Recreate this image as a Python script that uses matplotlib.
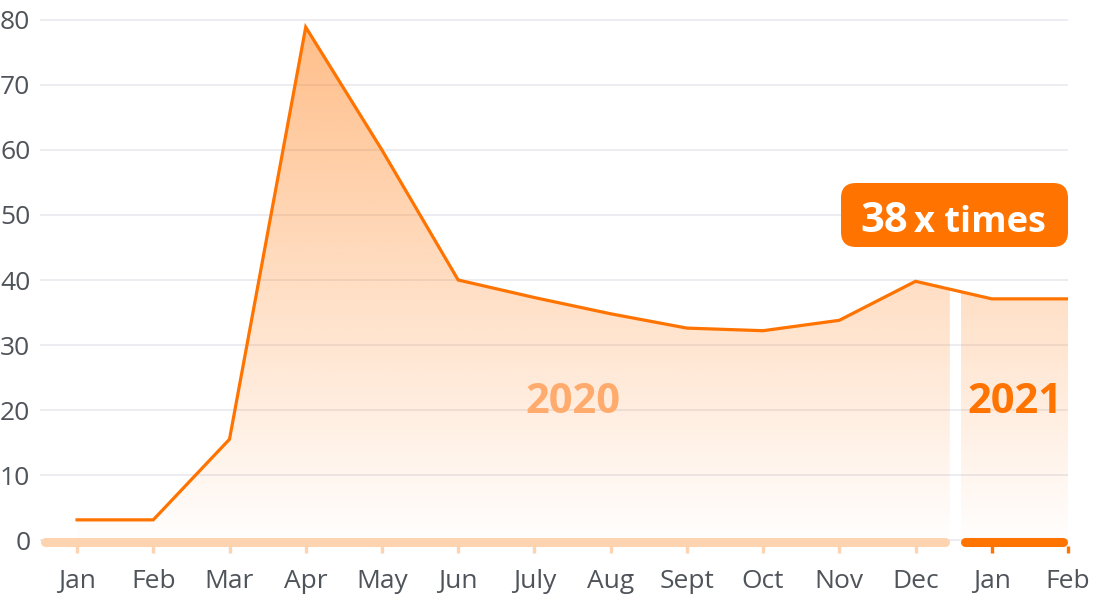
import numpy as np
import matplotlib
matplotlib.use("Agg")
import matplotlib.pyplot as plt
from matplotlib.patches import Polygon, FancyBboxPatch

# data
months = ["Jan", "Feb", "Mar", "Apr", "May", "Jun", "July", "Aug", "Sept",
          "Oct", "Nov", "Dec", "Jan", "Feb"]
values = [3.1, 3.1, 15.5, 78.9, 60.0, 40.0, 37.3, 34.8, 32.6, 32.2, 33.8,
          39.8, 37.1, 37.1]
n_2020 = 12
yticks = [0, 10, 20, 30, 40, 50, 60, 70, 80]

ORANGE = "#ff7300"
LIGHT = "#fdd3b0"
TEXT = "#4f545a"

plt.rcParams["font.family"] = ["Open Sans", "DejaVu Sans"]

fig = plt.figure(figsize=(11, 6.01), dpi=100)
ax = fig.add_axes([40 / 1100, 55 / 601, 1028 / 1100, 532 / 601])

x = np.arange(len(values))
xl, xr = -0.486, len(values) - 1

# gradient fill, split in two years with a small gap
split = 11.52
gap = 0.07
grad = np.zeros((200, 2, 4))
rgb = matplotlib.colors.to_rgb(ORANGE)
grad[..., 0], grad[..., 1], grad[..., 2] = rgb
grad[..., 3] = np.linspace(0.01, 0.47, 200)[:, None]

def fill_part(a, b):
    xs = [a] + [xx for xx in x if a < xx < b] + [b]
    ys = np.interp(xs, x, values)
    pts = [(a, 0)] + list(zip(xs, ys)) + [(b, 0)]
    poly = Polygon(pts, closed=True, facecolor="none", edgecolor="none")
    ax.add_patch(poly)
    im = ax.imshow(grad, extent=[a, b, 0, 80], origin="lower", aspect="auto",
                   interpolation="bilinear", zorder=1)
    im.set_clip_path(poly)

fill_part(0, split - gap)
fill_part(split + gap, xr)
ax.set_xlim(xl, xr)
ax.set_ylim(-0.923, 80.923)

ax.plot(x, values, color=ORANGE, lw=2.3, zorder=3, solid_joinstyle="miter")

# year bars along the bottom
ax.plot([xl + 0.06, split - gap - 0.06], [-0.3, -0.3], color=LIGHT, lw=6.5,
        solid_capstyle="round", zorder=4, clip_on=False)
ax.plot([split + gap + 0.06, xr - 0.06], [-0.3, -0.3], color=ORANGE, lw=6.5,
        solid_capstyle="round", zorder=4, clip_on=False)

ax.set_yticks(yticks)
ax.set_yticklabels([str(v) for v in yticks])
ax.grid(axis="y", color="#e9e9ef", lw=1.2, zorder=0)
ax.set_axisbelow(True)
ax.set_xticks(x)
ax.set_xticklabels(months)
ax.tick_params(axis="y", length=0, pad=7, labelsize=19, labelcolor=TEXT)
ax.tick_params(axis="x", length=5, width=2.4, pad=11.5, labelsize=19,
               labelcolor=TEXT, color=LIGHT)
for i, t in enumerate(ax.xaxis.get_major_ticks()):
    if i >= n_2020:
        t.tick1line.set_markeredgecolor(ORANGE)
for s in ax.spines.values():
    s.set_visible(False)

ax.text(6.5, 19.5, "2020", color="#ffab6e", fontsize=30, fontweight="bold",
        ha="center", va="baseline", zorder=5)
ax.text(12.3, 19.5, "2021", color=ORANGE, fontsize=30, fontweight="bold",
        ha="center", va="baseline", zorder=5)

# "38 x times" badge
box = FancyBboxPatch((8.41, 3.54), 2.27, 0.64,
                     boxstyle="round,pad=0,rounding_size=0.15",
                     transform=fig.dpi_scale_trans, facecolor=ORANGE,
                     edgecolor="none")
fig.add_artist(box)
fig.text(9.08, 3.69, "38", transform=fig.dpi_scale_trans, color="white",
         fontsize=30, fontweight="bold", ha="right", va="baseline")
fig.text(9.14, 3.69, "x times", transform=fig.dpi_scale_trans, color="white",
         fontsize=26, fontweight="bold", ha="left", va="baseline")

fig.savefig("out.png", dpi=100)
